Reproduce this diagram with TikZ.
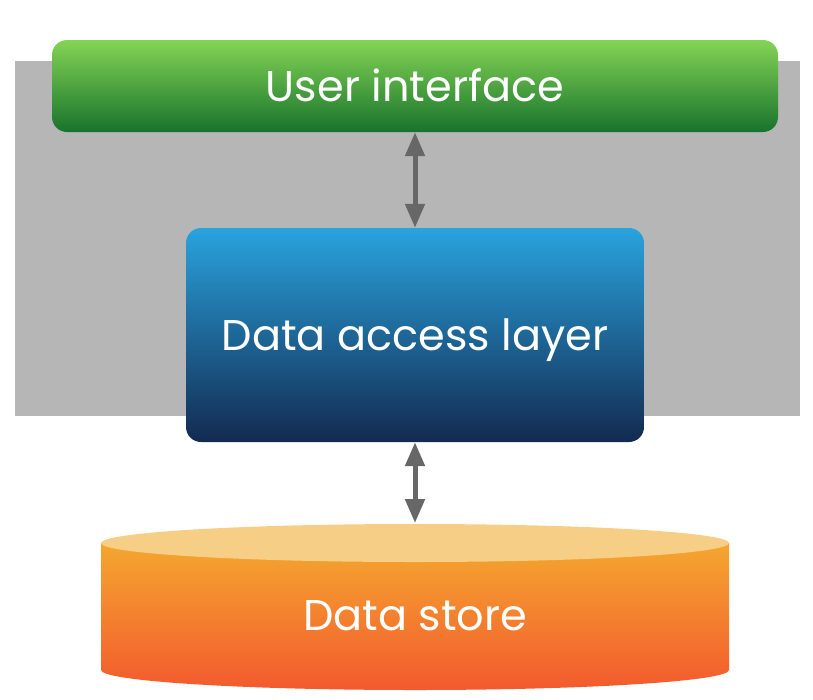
\documentclass[tikz,border=0pt]{standalone}
\usepackage{fontspec}
\setmainfont{Poppins}
\usetikzlibrary{arrows.meta}
\definecolor{panelgray}{HTML}{B6B6B6}
\definecolor{uitop}{HTML}{84D454}
\definecolor{uibot}{HTML}{17732D}
\definecolor{daltop}{HTML}{29A3DE}
\definecolor{dalbot}{HTML}{132A50}
\definecolor{dstop}{HTML}{F4A72F}
\definecolor{dsbot}{HTML}{F35A2E}
\definecolor{dscap}{HTML}{F7CE85}
\definecolor{arrgray}{HTML}{676767}
\tikzset{
  box/.style={rounded corners=15pt, inner sep=0pt},
  label/.style={text=white, inner sep=0pt, anchor=base, font=\fontsize{43}{50}\selectfont},
  link/.style={draw=arrgray, line width=5pt, {Triangle[width=19pt,length=24pt]}-{Triangle[width=19pt,length=24pt]}}
}
\begin{document}
\begin{tikzpicture}[x=1pt,y=-1pt]
\useasboundingbox (0,0) rectangle (813,699);
% gray panel
\fill[panelgray] (15,61) rectangle (800,416);
% user interface
\node[box, top color=uitop, bottom color=uibot, minimum width=726pt, minimum height=92pt] (ui) at (415,86) {};
\node[label] (uit) at (415,101) {User interface};
% data access layer
\node[box, top color=daltop, bottom color=dalbot, minimum width=458pt, minimum height=214pt] (dal) at (415,335) {};
\node[label] (dalt) at (415,350) {Data access layer};
% data store cylinder
\shade[top color=dstop, bottom color=dsbot] (101,543) -- (101,670) arc[start angle=180, end angle=360, x radius=314pt, y radius=20pt] -- (729,543) -- cycle;
\fill[dscap] (415,543) ellipse[x radius=314pt, y radius=19pt];
\node[label] (ds) at (415,630) {Data store};
\coordinate (dstop) at (415,523);
% connectors
\draw[link] (ui.south) -- (dal.north);
\draw[link] (dal.south) -- (dstop);
\end{tikzpicture}
\end{document}
